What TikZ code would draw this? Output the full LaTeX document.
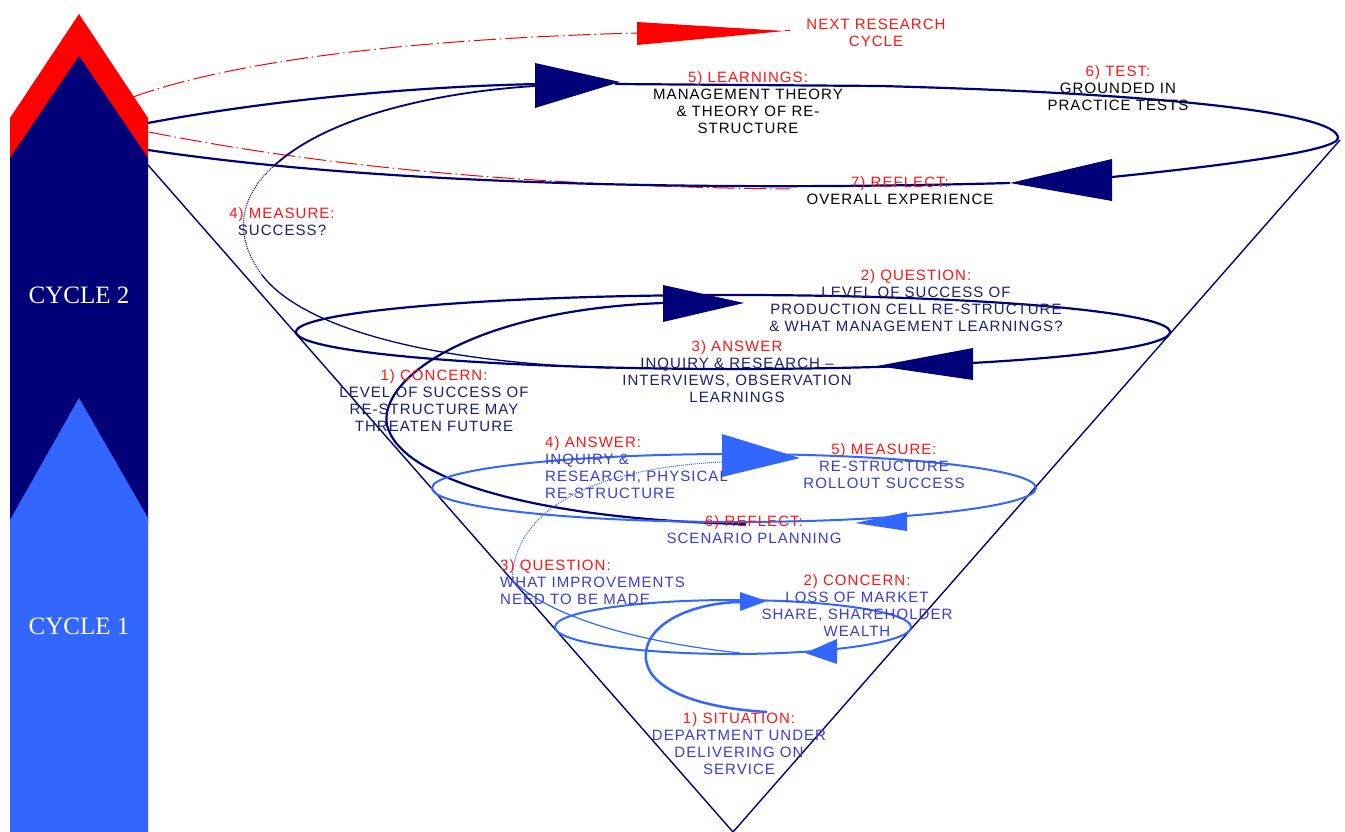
\documentclass[tikz,border=0pt]{standalone}
\usepackage{fontspec}
\setmainfont{Liberation Serif}
\newfontfamily\lab[LetterSpace=7]{Liberation Sans}
\definecolor{navy}{RGB}{0,0,120}
\definecolor{lblue}{RGB}{51,102,255}
\definecolor{ntext}{RGB}{30,30,110}
\definecolor{btext}{RGB}{60,60,210}
\definecolor{rtext}{RGB}{255,20,20}
\begin{document}
\begin{tikzpicture}[x=1pt,y=-1pt,
  lbl/.style={font=\lab\fontsize{15}{17}\selectfont, align=center, inner sep=0pt, anchor=north},
  lbll/.style={lbl, align=left, anchor=north west},
  cyc/.style={font=\fontsize{25}{28}\selectfont, text=white, inner sep=0pt},
  spiral2/.style={navy, line width=2.2pt},
  spiral1/.style={lblue, line width=2pt},
  cone/.style={navy, line width=1.4pt},
  nextline/.style={red, line width=1pt, dash pattern=on 22pt off 4pt on 1.5pt off 4pt}
]
\useasboundingbox (0,0) rectangle (1345,832);
\fill[white] (0,0) rectangle (1345,832);

% left cycle arrows
\fill[red] (10,165) -- (10,118) -- (79,14) -- (148,118) -- (148,165) -- cycle;
\fill[navy] (10,525) -- (10,158) -- (79,56) -- (148,158) -- (148,525) -- cycle;
\fill[lblue] (10,832) -- (10,520) -- (79,398) -- (148,518) -- (148,832) -- cycle;
\node[cyc] (c2) at (79,295) {CYCLE 2};
\node[cyc] (c1) at (79,626) {CYCLE 1};

% cone
\coordinate (coneL) at (148,165);
\coordinate (coneB) at (733,832);
\coordinate (coneR) at (1340,140);
\draw[cone] (coneL) -- (coneB) -- (coneR);

% next research cycle (red dash-dot)
\draw[nextline] (133,97) .. controls (250,55) and (450,38) .. (637,33);
\draw[nextline] (149,132) .. controls (300,162) and (500,186) .. (790,189);
\fill[red] (637,22) -- (785,31) -- (637,45) -- cycle;
\draw[red, line width=1pt] (785,31) -- (790,31);

% cycle 2 : top loop
\draw[spiral2] (148,123) .. controls (280,98) and (430,86) .. (540,84);
\draw[spiral2] (615,84) -- (880,86) .. controls (1150,93) and (1338,112) .. (1338,138)
   .. controls (1338,152) and (1200,168) .. (1112,177);
\draw[spiral2] (1010,183) .. controls (750,190) and (400,188) .. (148,150);
\fill[navy] (535,63) -- (620,82) -- (535,108) -- cycle;
\fill[navy] (1112,159) -- (1010,183) -- (1112,201) -- cycle;

% cycle 2 : measure connector
\draw[navy, line width=1.3pt] (610,368) .. controls (420,362) and (300,325) .. (262,275);
\draw[navy, line width=1pt, densely dotted] (262,275) .. controls (232,235) and (240,195) .. (275,165);
\draw[navy, line width=1.8pt] (275,165) .. controls (330,115) and (440,92) .. (535,86);

% cycle 2 : lower loop
\draw[spiral2] (733,332) ellipse [x radius=437, y radius=37];
\fill[navy] (663,285) -- (744,303) -- (663,322) -- cycle;
\fill[navy] (973,348) -- (877,366) -- (973,380) -- cycle;

% cycle 2 : concern connector from cycle 1
\draw[spiral2] (746,524) .. controls (540,520) and (400,480) .. (387,425)
   .. controls (378,380) and (470,310) .. (663,303);

% cycle 1 : upper loop
\draw[spiral1] (734,488) ellipse [x radius=302, y radius=34];
\fill[lblue] (722,434) -- (800,458) -- (722,477) -- cycle;
\fill[lblue] (907,512) -- (855,523) -- (907,531) -- cycle;

% cycle 1 : question connector
\draw[lblue, line width=1pt, densely dotted] (722,462) .. controls (600,468) and (515,505) .. (512,580);
\draw[lblue, line width=1.2pt] (512,580) .. controls (545,612) and (620,640) .. (740,653);

% cycle 1 : lower loop
\draw[spiral1] (733,627) ellipse [x radius=178, y radius=27];
\fill[lblue] (740,592) -- (767,601) -- (740,611) -- cycle;
\fill[lblue] (837,639) -- (805,653) -- (837,664) -- cycle;

% cycle 1 : start
\draw[lblue, line width=2.5pt] (767,712) .. controls (700,708) and (650,690) .. (646,660)
   .. controls (642,625) and (690,603) .. (740,602);

% labels
\node[lbl, text=rtext] (next) at (876,19) {NEXT RESEARCH\\CYCLE};
\node[lbl, text=black] (learn) at (748,71) {{\color{rtext}5) LEARNINGS:}\\MANAGEMENT THEORY\\\& THEORY OF RE-\\STRUCTURE};
\node[lbl, text=black] (test) at (1118,65) {{\color{rtext}6) TEST:}\\GROUNDED IN\\PRACTICE TESTS};
\node[lbl, text=black] (refl2) at (900,176) {{\color{rtext}7) REFLECT:}\\OVERALL EXPERIENCE};
\node[lbl, text=ntext] (meas2) at (282,207) {{\color{rtext}4) MEASURE:}\\SUCCESS?};
\node[lbl, text=ntext] (quest2) at (916,269) {{\color{rtext}2) QUESTION:}\\LEVEL OF SUCCESS OF\\PRODUCTION CELL RE-STRUCTURE\\\& WHAT MANAGEMENT LEARNINGS?};
\node[lbl, text=ntext] (ans2) at (737,340) {{\color{rtext}3) ANSWER}\\INQUIRY \& RESEARCH –\\INTERVIEWS, OBSERVATION\\LEARNINGS};
\node[lbl, text=ntext] (conc2) at (434,369) {{\color{rtext}1) CONCERN:}\\LEVEL OF SUCCESS OF\\RE-STRUCTURE MAY\\THREATEN FUTURE};
\node[lbll, text=btext] (ans1) at (545,436) {{\color{rtext}4) ANSWER:}\\INQUIRY \&\\RESEARCH, PHYSICAL\\RE-STRUCTURE};
\node[lbl, text=btext] (meas1) at (884,443) {{\color{rtext}5) MEASURE:}\\RE-STRUCTURE\\ROLLOUT SUCCESS};
\node[lbl, text=btext] (refl1) at (754,515) {{\color{rtext}6) REFLECT:}\\SCENARIO PLANNING};
\node[lbll, text=btext] (quest1) at (500,559) {{\color{rtext}3) QUESTION:}\\WHAT IMPROVEMENTS\\NEED TO BE MADE};
\node[lbl, text=btext] (conc1) at (857,574) {{\color{rtext}2) CONCERN:}\\LOSS OF MARKET\\SHARE, SHAREHOLDER\\WEALTH};
\node[lbl, text=btext] (sit1) at (739,712) {{\color{rtext}1) SITUATION:}\\DEPARTMENT UNDER\\DELIVERING ON\\SERVICE};
\end{tikzpicture}
\end{document}
